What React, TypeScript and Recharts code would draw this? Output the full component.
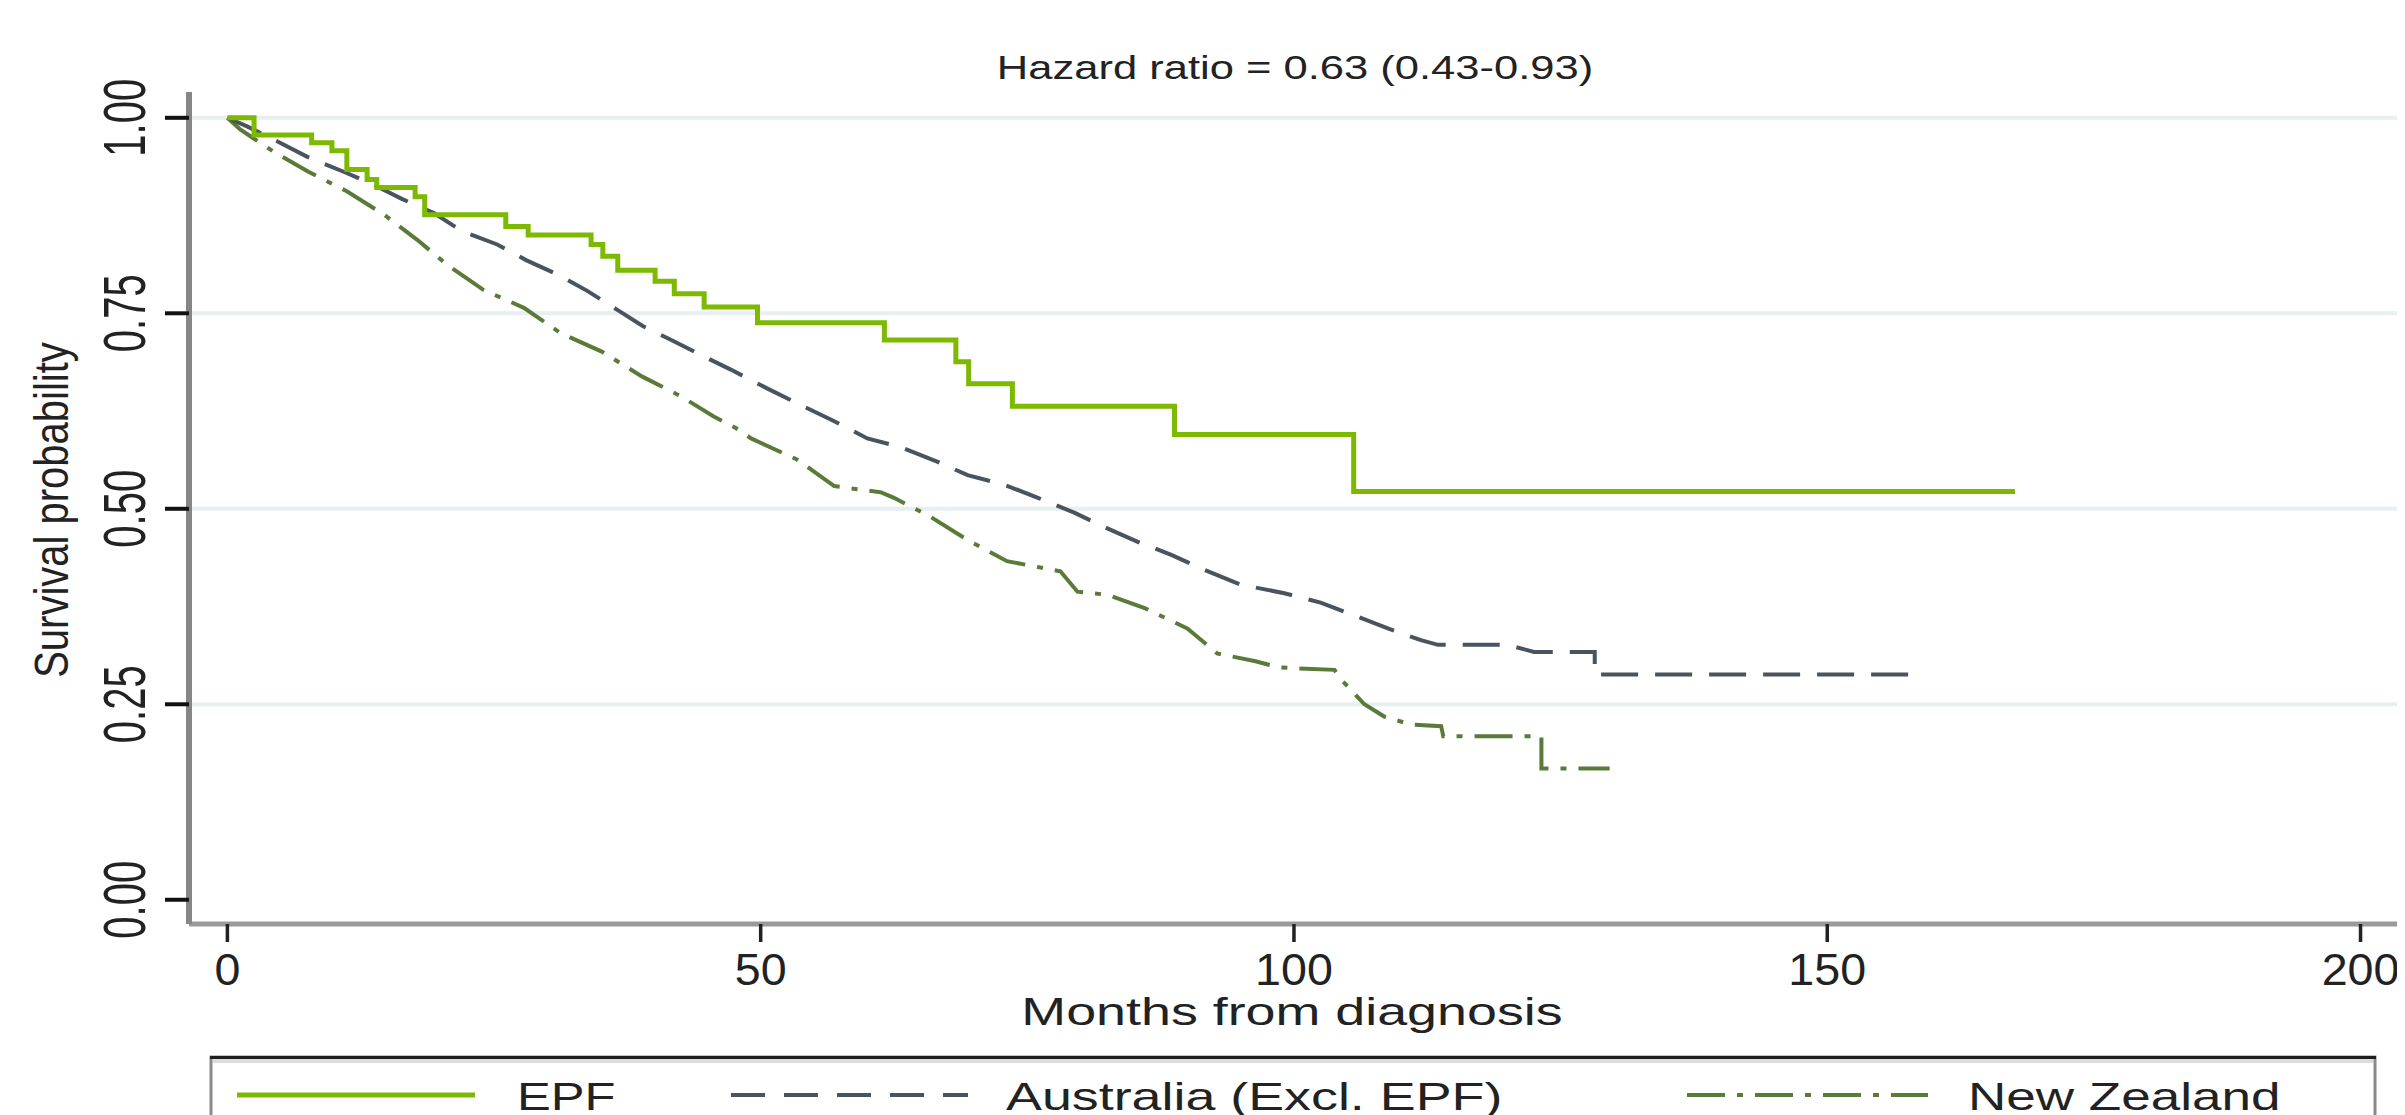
import React from 'react';
import { LineChart, Line, XAxis, YAxis, CartesianGrid, Customized } from 'recharts';

// ---------- data ----------
const epfMonths = [0, 2.5, 7.9, 9.8, 11.2, 13.1, 14.0, 17.6, 18.5, 26.1, 28.2, 34.1, 35.2, 36.6, 40.1, 41.9, 44.7, 49.7, 61.6, 68.3, 69.5, 73.6, 88.8, 105.6, 167.6];
const epfSurvival = [1.0, 0.978, 0.968, 0.958, 0.934, 0.921, 0.911, 0.899, 0.876, 0.861, 0.85, 0.838, 0.823, 0.805, 0.791, 0.775, 0.758, 0.738, 0.716, 0.688, 0.66, 0.631, 0.595, 0.522, 0.522];

const ausMonths = [0, 1.85, 4.66, 7.5, 10.9, 13.4, 16.4, 19.4, 22.0, 25.3, 28.0, 31.2, 33.7, 36.6, 38.9, 41.9, 44.5, 47.2, 50.6, 53.4, 56.9, 60.0, 63.1, 66.6, 69.4, 72.8, 76.0, 79.4, 82.5, 85.3, 88.5, 91.6, 95.0, 99.1, 102.5, 106.0, 108.8, 111.9, 113.5, 118.5, 120.0, 122.5, 128.2, 128.2, 157.9];
const ausSurvival = [1.0, 0.989, 0.97, 0.95, 0.931, 0.9165, 0.896, 0.878, 0.855, 0.838, 0.818, 0.798, 0.779, 0.754, 0.734, 0.714, 0.696, 0.678, 0.654, 0.635, 0.612, 0.59, 0.579, 0.56, 0.543, 0.531, 0.514, 0.495, 0.475, 0.458, 0.441, 0.422, 0.403, 0.392, 0.38, 0.362, 0.347, 0.332, 0.326, 0.326, 0.326, 0.317, 0.317, 0.288, 0.288];

const nzMonths = [0, 1.2, 4.3, 7.6, 11.2, 14.7, 17.8, 20.6, 24.0, 27.8, 31.2, 35.1, 38.9, 42.5, 45.6, 47.7, 49.1, 53.4, 56.9, 61.3, 62.5, 65.9, 69.4, 73.1, 78.1, 79.7, 82.5, 86.0, 90.0, 92.8, 96.4, 98.6, 103.8, 104.4, 106.6, 108.5, 111.0, 113.8, 114.0, 123.2, 123.2, 129.6];
const nzSurvival = [1.0, 0.985, 0.957, 0.931, 0.906, 0.876, 0.844, 0.812, 0.78, 0.757, 0.725, 0.701, 0.669, 0.644, 0.618, 0.603, 0.59, 0.563, 0.529, 0.521, 0.514, 0.49, 0.46, 0.433, 0.42, 0.394, 0.39, 0.373, 0.347, 0.315, 0.305, 0.297, 0.294, 0.282, 0.25, 0.234, 0.224, 0.222, 0.209, 0.209, 0.168, 0.168];

const xTicks = [0, 50, 100, 150, 200];
const yTicks = [0, 0.25, 0.5, 0.75, 1];
const yTickLabels = ['0.00', '0.25', '0.50', '0.75', '1.00'];
const gridValues = [0.25, 0.5, 0.75, 1];
const seriesNames = ['EPF', 'Australia (Excl. EPF)', 'New Zealand'];
const titleText = 'Hazard ratio = 0.63 (0.43-0.93)';
const xTitle = 'Months from diagnosis';
const yTitle = 'Survival probability';

const epfData = epfMonths.map((t, i) => ({ t, s: epfSurvival[i] }));
const ausData = ausMonths.map((t, i) => ({ t, s: ausSurvival[i] }));
const nzData = nzMonths.map((t, i) => ({ t, s: nzSurvival[i] }));

// ---------- styles ----------
const FONT = '"Liberation Sans", Arial, sans-serif';
const TEXT = '#222222';
const EPF_COLOR = '#7cb900';
const AUS_COLOR = '#4a545e';
const NZ_COLOR = '#5a7a3a';
const AUS_DASH = '37 17';
const NZ_DASH = '38 12 6 12';

const W = 2397;
const H = 1107;

const XTick = (props: any) => {
  const { x, y, payload } = props;
  return (
    <g transform={`translate(${x},${y + 43}) scale(1.06,1)`}>
      <text x={0} y={0} textAnchor="middle" fontSize={44} fontFamily={FONT} fill={TEXT}>
        {payload.value}
      </text>
    </g>
  );
};

const YTick = (props: any) => {
  const { x, y, payload } = props;
  const idx = yTicks.indexOf(payload.value);
  return (
    <g transform={`translate(${x - 20},${y}) scale(1.5,1) rotate(-90)`}>
      <text x={0} y={0} textAnchor="middle" fontSize={40} fontFamily={FONT} fill={TEXT}>
        {idx >= 0 ? yTickLabels[idx] : payload.value}
      </text>
    </g>
  );
};

const Texts = () => (
  <g>
    <g transform="translate(1287,71) scale(1.34,1)">
      <text x={0} y={0} textAnchor="middle" fontSize={32.5} fontFamily={FONT} fill={TEXT}>{titleText}</text>
    </g>
    <g transform="translate(1284,1017) scale(1.38,1)">
      <text x={0} y={0} textAnchor="middle" fontSize={39} fontFamily={FONT} fill={TEXT}>{xTitle}</text>
    </g>
    <g transform="translate(60,502) scale(1.2,1) rotate(-90)">
      <text x={0} y={0} textAnchor="middle" fontSize={40} fontFamily={FONT} fill={TEXT}>{yTitle}</text>
    </g>
  </g>
);

const legendItems = [
  { name: seriesNames[0], color: EPF_COLOR, dash: undefined as string | undefined, width: 5, x1: 229, x2: 467, tx: 509, sx: 1.3 },
  { name: seriesNames[1], color: AUS_COLOR, dash: '34 19', width: 4, x1: 723, x2: 960, tx: 998, sx: 1.38 },
  { name: seriesNames[2], color: NZ_COLOR, dash: NZ_DASH, width: 4, x1: 1679, x2: 1920, tx: 1960, sx: 1.36 },
];

const LegendBox = () => (
  <g>
    <rect x={203} y={1049} width={2164} height={120} fill="#ffffff" stroke="#8a8a8a" strokeWidth={3} />
    <line x1={202} x2={2368} y1={1049.5} y2={1049.5} stroke="#1e1e1e" strokeWidth={3} />
    <line x1={205} x2={2365} y1={1053} y2={1053} stroke="#dcdcdc" strokeWidth={4} />
    {legendItems.map((it) => (
      <g key={it.name}>
        <line x1={it.x1} x2={it.x2} y1={1087} y2={1087} stroke={it.color} strokeWidth={it.width} strokeDasharray={it.dash} />
        <g transform={`translate(${it.tx},1102) scale(${it.sx},1)`}>
          <text x={0} y={0} fontSize={39} fontFamily={FONT} fill={TEXT}>{it.name}</text>
        </g>
      </g>
    ))}
  </g>
);

export default function App() {
  return (
    <div style={{ width: W, height: H, background: '#ffffff' }}>
      <LineChart width={W} height={H} margin={{ top: 84, right: 5, left: 0, bottom: 91 }}>
        <CartesianGrid vertical={false} horizontalValues={gridValues} stroke="#e7eff0" strokeWidth={4} />
        <XAxis
          type="number"
          dataKey="t"
          domain={[-3.6, 203.7]}
          ticks={xTicks}
          interval={0}
          allowDataOverflow
          height={100}
          tickSize={18}
          tickMargin={0}
          axisLine={{ stroke: '#9a9a9a', strokeWidth: 5 }}
          tickLine={{ stroke: '#222222', strokeWidth: 3.5 }}
          tick={<XTick />}
        />
        <YAxis
          type="number"
          dataKey="s"
          domain={[-0.031, 1.033]}
          ticks={yTicks}
          interval={0}
          allowDataOverflow
          width={181}
          tickSize={24}
          tickMargin={0}
          axisLine={{ stroke: '#868686', strokeWidth: 6 }}
          tickLine={{ stroke: '#111111', strokeWidth: 4 }}
          tick={<YTick />}
        />
        <Line data={nzData} dataKey="s" type="linear" stroke={NZ_COLOR} strokeWidth={4} strokeDasharray={NZ_DASH} dot={false} activeDot={false} isAnimationActive={false} />
        <Line data={ausData} dataKey="s" type="linear" stroke={AUS_COLOR} strokeWidth={4} strokeDasharray={AUS_DASH} dot={false} activeDot={false} isAnimationActive={false} />
        <Line data={epfData} dataKey="s" type="stepAfter" stroke={EPF_COLOR} strokeWidth={5} dot={false} activeDot={false} isAnimationActive={false} />
        <Customized component={Texts} />
        <Customized component={LegendBox} />
      </LineChart>
    </div>
  );
}
